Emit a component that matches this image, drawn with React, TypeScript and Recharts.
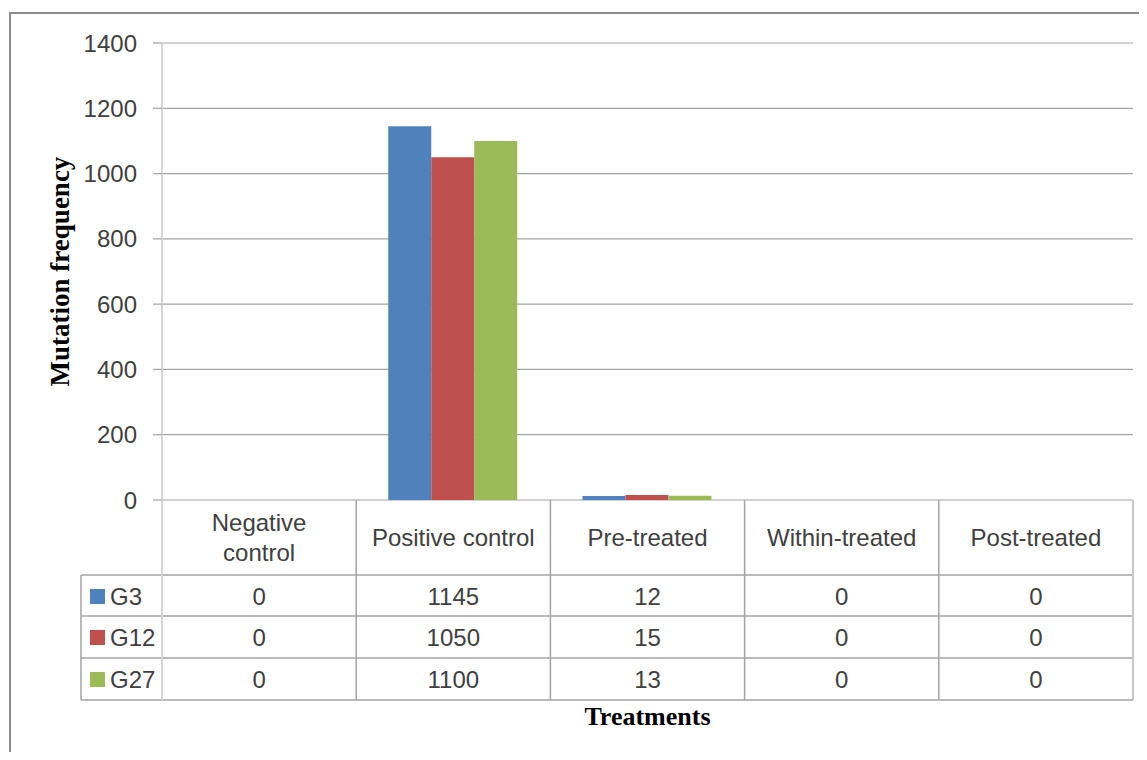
import React from "react";
import { BarChart, Bar, XAxis, YAxis, CartesianGrid } from "recharts";

// ── Data ─────────────────────────────────────────────────────
const categories = ["Negative control", "Positive control", "Pre-treated", "Within-treated", "Post-treated"];
const headerLines = [["Negative", "control"], ["Positive control"], ["Pre-treated"], ["Within-treated"], ["Post-treated"]];
const seriesNames = ["G3", "G12", "G27"];
const g3 = [0, 1145, 12, 0, 0];
const g12 = [0, 1050, 15, 0, 0];
const g27 = [0, 1100, 13, 0, 0];
const yTicks = [0, 200, 400, 600, 800, 1000, 1200, 1400];

const seriesValues = [g3, g12, g27];
const seriesColors = ["#4F81BD", "#C0504D", "#9BBB59"];

const data = categories.map((name, i) => ({ name, G3: g3[i], G12: g12[i], G27: g27[i] }));

// ── Layout ───────────────────────────────────────────────────
const W = 1147;
const H = 760;
const PLOT_L = 162;
const PLOT_R = 1133;
const PLOT_T = 43;
const PLOT_B = 500;
const Y_AXIS_W = 80;
const X_AXIS_H = 200;
const TABLE_L = 81;
const HEADER_B = 575;
const ROW_B = [616, 658, 700];
const ROW_MID = [596, 637, 679];

const SANS = "'Liberation Sans', Arial, sans-serif";
const SERIF = "'Liberation Serif', 'Times New Roman', serif";
const FONT_SIZE = 24;
const TEXT = "#404040";
const LINE = "#a3a3a3";

// Category tick that draws the data table column beneath the plot
function TableTick(props: any) {
  const { x, payload } = props;
  const i: number = payload.index;
  const bandW = (PLOT_R - PLOT_L) / categories.length;
  const lines = headerLines[i];
  const headerMid = (PLOT_B + HEADER_B) / 2;
  const lineH = 30;

  return (
    <g>
      {i === 0 && (
        <g>
          {/* row separators and outer frame */}
          {[HEADER_B, ...ROW_B].map((yy) => (
            <line key={yy} x1={TABLE_L} x2={PLOT_R} y1={yy} y2={yy} stroke={LINE} strokeWidth={1.5} />
          ))}
          <line x1={TABLE_L} x2={TABLE_L} y1={HEADER_B} y2={ROW_B[2]} stroke={LINE} strokeWidth={1.5} />
          <line x1={PLOT_L} x2={PLOT_L} y1={PLOT_B} y2={ROW_B[2]} stroke="#d4d4d4" strokeWidth={2} />
          {/* legend keys */}
          {seriesNames.map((s, k) => (
            <g key={s}>
              <rect x={90} y={ROW_MID[k] - 7} width={15} height={15} fill={seriesColors[k]} />
              <text x={110} y={ROW_MID[k]} dominantBaseline="central" fontFamily={SANS} fontSize={FONT_SIZE} fill={TEXT}>
                {s}
              </text>
            </g>
          ))}
        </g>
      )}
      <line
        x1={x + bandW / 2}
        x2={x + bandW / 2}
        y1={PLOT_B}
        y2={ROW_B[2]}
        stroke={i === categories.length - 1 ? "#c8c8c8" : LINE}
        strokeWidth={i === categories.length - 1 ? 2 : 1.5}
      />
      {lines.map((t, k) => (
        <text
          key={k}
          x={x}
          y={headerMid + (k - (lines.length - 1) / 2) * lineH}
          textAnchor="middle"
          dominantBaseline="central"
          fontFamily={SANS}
          fontSize={FONT_SIZE}
          fill={TEXT}
        >
          {t}
        </text>
      ))}
      {seriesValues.map((vals, k) => (
        <text
          key={k}
          x={x}
          y={ROW_MID[k]}
          textAnchor="middle"
          dominantBaseline="central"
          fontFamily={SANS}
          fontSize={FONT_SIZE}
          fill={TEXT}
        >
          {vals[i]}
        </text>
      ))}
    </g>
  );
}

export default function App() {
  return (
    <div style={{ position: "relative", margin: -8, width: W, height: H, overflow: "hidden", background: "#fff" }}>
      <div
        style={{
          position: "absolute",
          left: 9,
          top: 12,
          width: W + 40,
          height: H + 40,
          border: "2px solid #8c8c8c",
        }}
      />
      <BarChart
        width={W}
        height={H}
        data={data}
        margin={{ top: PLOT_T, right: W - PLOT_R, left: PLOT_L - Y_AXIS_W, bottom: H - PLOT_B - X_AXIS_H }}
        barCategoryGap="16.5%"
        barGap={0}
        style={{ position: "absolute", left: 0, top: 0 }}
      >
        <CartesianGrid vertical={false} stroke={LINE} strokeWidth={1.2} />
        <YAxis
          width={Y_AXIS_W}
          domain={[0, 1400]}
          ticks={yTicks}
          interval={0}
          tickSize={9}
          tickMargin={16}
          tickLine={{ stroke: LINE, strokeWidth: 1.2 }}
          axisLine={{ stroke: "#d4d4d4", strokeWidth: 2 }}
          tick={{ fill: TEXT, fontSize: FONT_SIZE, fontFamily: SANS }}
          label={{
            content: () => (
              <text
                x={60}
                y={(PLOT_T + PLOT_B) / 2}
                transform={`rotate(-90 60 ${(PLOT_T + PLOT_B) / 2})`}
                textAnchor="middle"
                dominantBaseline="central"
                fontFamily={SERIF}
                fontWeight="bold"
                fontSize={27}
                fill="#000"
              >
                Mutation frequency
              </text>
            ),
          }}
        />
        <XAxis
          dataKey="name"
          height={X_AXIS_H}
          axisLine={false}
          tickLine={false}
          interval={0}
          tick={<TableTick />}
          label={{
            value: "Treatments",
            position: "bottom",
            offset: 7,
            fill: "#000",
            fontFamily: SERIF,
            fontWeight: "bold",
            fontSize: 26,
          }}
        />
        {seriesNames.map((s, k) => (
          <Bar key={s} dataKey={s} fill={seriesColors[k]} isAnimationActive={false} />
        ))}
      </BarChart>
    </div>
  );
}
